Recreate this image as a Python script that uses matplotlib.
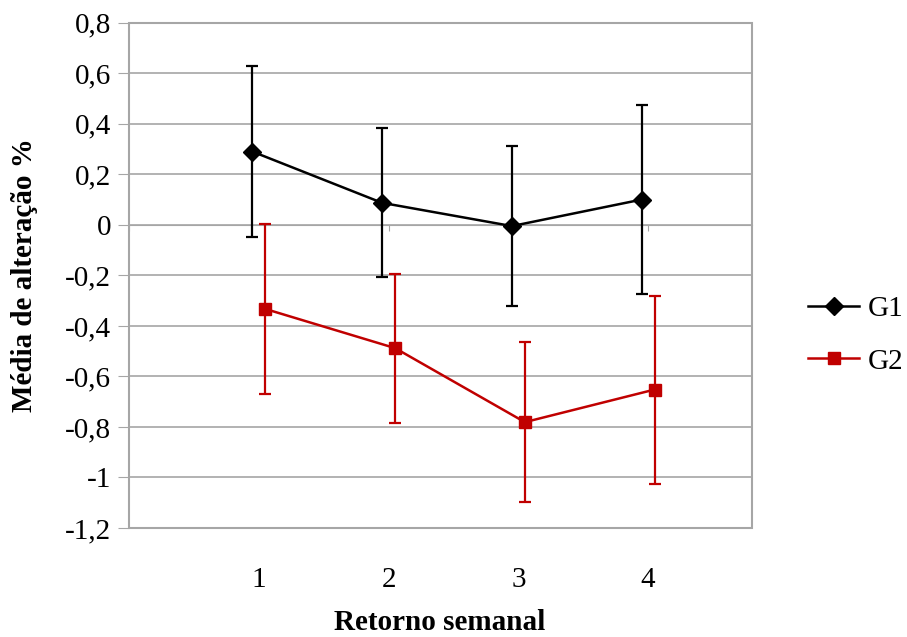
import matplotlib
matplotlib.use("Agg")
import matplotlib.pyplot as plt
from matplotlib.ticker import FuncFormatter, FixedLocator
from matplotlib.lines import Line2D

# Data
weeks = [1, 2, 3, 4]
week_labels = ["1", "2", "3", "4"]
g1_mean = [0.29, 0.087, -0.005, 0.10]
g1_err = [0.337, 0.295, 0.318, 0.373]
g2_mean = [-0.333, -0.488, -0.781, -0.652]
g2_err = [0.335, 0.295, 0.318, 0.372]
offset = 0.05

plt.rcParams['font.family'] = ['Liberation Serif', 'DejaVu Serif']

fig = plt.figure(figsize=(9.07, 6.37), dpi=100)
ax = fig.add_axes([129/907, 1-528/637, (752-129)/907, (528-22.7)/637])

grid_c = '#a6a6a6'
red = '#c00000'
fs = 21

x1 = [w - offset for w in weeks]
x2 = [w + offset for w in weeks]

ax.errorbar(x1, g1_mean, yerr=g1_err, color='black', marker='D', markersize=9,
            linewidth=1.8, elinewidth=1.6, capsize=4.5, capthick=1.6, zorder=3)
ax.errorbar(x2, g2_mean, yerr=g2_err, color=red, marker='s', markersize=8,
            linewidth=1.8, elinewidth=1.6, capsize=4.5, capthick=1.6, zorder=3)

ax.set_xlim(0, 4.8)
ax.set_ylim(-1.2, 0.8)
yt = [0.8, 0.6, 0.4, 0.2, 0, -0.2, -0.4, -0.6, -0.8, -1, -1.2]
ax.yaxis.set_major_locator(FixedLocator(yt))
ax.yaxis.set_major_formatter(FuncFormatter(lambda v, p: ('%g' % round(v, 2)).replace('.', ',')))
ax.yaxis.grid(True, color=grid_c, linewidth=1.2)
ax.set_axisbelow(True)
ax.tick_params(axis='y', direction='out', length=8, color=grid_c, labelsize=fs, pad=5)

# x axis crossing at 0
ax.spines['bottom'].set_position(('data', 0))
ax.spines['bottom'].set_color(grid_c)
ax.set_xticks([0, 2, 4])
ax.tick_params(axis='x', direction='out', length=4, color=grid_c, labelbottom=False)
for s in ['top', 'right']:
    ax.spines[s].set_visible(False)
ax.spines['left'].set_color(grid_c)
ax.spines['left'].set_linewidth(1.2)
ax.patch.set_edgecolor(grid_c)
ax.patch.set_linewidth(1.5)

sec = ax.secondary_xaxis('bottom')
sec.set_xticks(weeks)
sec.set_xticklabels(week_labels)
sec.tick_params(length=0, labelsize=fs, pad=28)
sec.spines['bottom'].set_visible(False)

ax.set_ylabel('Média de alteração %', fontsize=fs, fontweight='bold', va='center')
ax.yaxis.set_label_coords((25-129)/623, 0.5)
fig.text(440/907, 1-622/637, 'Retorno semanal', fontsize=fs, fontweight='bold',
         ha='center', va='center')

handles = [Line2D([], [], color='black', marker='D', markersize=9, linewidth=1.8),
           Line2D([], [], color=red, marker='s', markersize=8, linewidth=1.8)]
fig.legend(handles, ['G1', 'G2'], loc='center left', bbox_to_anchor=(808/907, 1-335/637),
           frameon=False, fontsize=fs, handlelength=1.75, handletextpad=0.3,
           labelspacing=0.9, borderpad=0, borderaxespad=0)

fig.savefig('out.png', dpi=100)
